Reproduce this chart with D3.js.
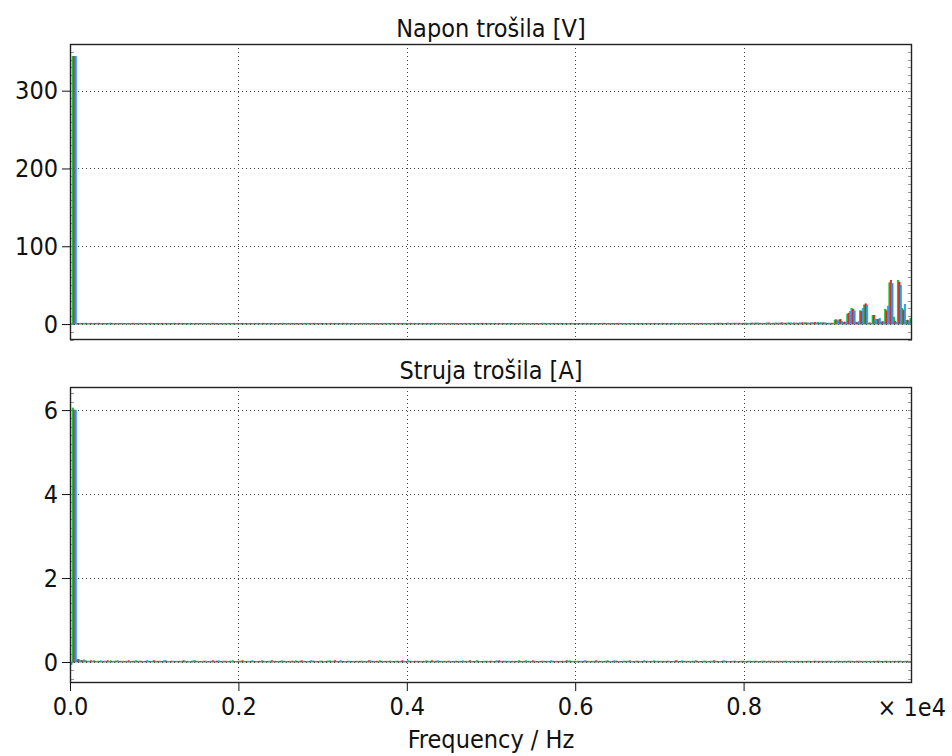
<!DOCTYPE html>
<html><head><meta charset="utf-8">
<script src="https://cdn.jsdelivr.net/npm/d3@7"></script>
<style>
body{margin:0;background:#fff;}
text{font-family:"DejaVu Sans Condensed","DejaVu Sans",sans-serif;fill:#111;}
</style></head>
<body><svg id="c" width="952" height="756"></svg>
<script>
// ---- data ----
const harmonicStepHz = 50;               // spacing of spectrum lines (harmonic order n -> n*50 Hz)
const xTickValues = [0, 2000, 4000, 6000, 8000];
const xTickLabels = ["0.0", "0.2", "0.4", "0.6", "0.8"];
const xExponentLabel = "× 1e4";
const xAxisTitle = "Frequency / Hz";
const panelTitles = ["Napon trošila [V]", "Struja trošila [A]"];
const seriesNames = ["faza a", "faza b", "faza c"];
const seriesColors = ["#0cc02a", "#ee1c1c", "#1e9cff"];
const voltTicks = [0, 100, 200, 300];
const currTicks = [0, 2, 4, 6];

// Voltage spectrum amplitudes [V], index = harmonic order 0..200
const voltA = [
0.3,344,0.8,0.9,1.1,0.7,0.9,1.0,0.6,0.8,1.2,0.7,0.9,0.6,1.0,0.8,0.7,1.1,0.9,0.6,
0.8,1.0,0.7,0.9,0.6,1.1,0.8,0.7,0.9,1.0,0.6,0.8,0.9,0.7,1.0,0.8,0.6,0.9,1.1,0.7,
0.9,0.6,0.8,1.0,0.7,0.9,0.8,0.6,1.0,0.7,0.9,1.1,0.8,0.6,0.9,0.7,1.0,0.8,0.6,0.9,
0.7,1.0,0.8,0.9,0.6,0.8,1.1,0.7,0.9,0.6,1.0,0.8,0.7,0.9,0.6,1.0,0.8,1.1,0.7,0.9,
0.6,0.8,1.0,0.7,0.9,0.8,0.6,1.0,0.7,0.9,0.8,1.1,0.6,0.9,0.7,1.0,0.8,0.6,0.9,0.7,
1.0,0.8,0.9,0.6,0.8,1.0,0.7,0.9,1.1,0.6,0.8,0.9,0.7,1.0,0.8,0.6,0.9,0.7,1.0,0.8,
0.9,0.6,0.8,1.1,0.7,0.9,0.6,1.0,0.8,0.7,0.9,1.0,0.6,0.8,0.9,0.7,1.0,0.8,0.6,0.9,
0.7,1.0,0.8,0.9,0.6,1.1,0.8,0.7,0.9,1.0,0.7,0.9,0.8,1.0,0.9,1.2,0.8,1.0,1.1,0.9,
0.9,1.2,1.0,1.4,0.8,1.1,1.3,0.9,1.5,1.0,1.2,1.6,0.9,1.3,1.1,1.8,1.2,1.5,2.0,1.4,
1.3,1.0,5.0,5.2,2.0,13.0,20.0,2.5,17.0,24.5,1.2,11.0,6.0,2.5,19.0,53.0,9.0,56.0,20.0,4.5,
7.0];
const voltB = [
0.2,344,0.9,0.7,1.0,0.8,0.6,1.1,0.9,0.7,1.0,0.8,0.6,0.9,0.7,1.1,0.8,0.9,0.6,1.0,
0.7,0.9,1.0,0.6,0.8,0.9,1.1,0.7,0.8,0.6,1.0,0.9,0.7,0.8,1.1,0.6,0.9,0.8,0.7,1.0,
0.8,1.0,0.6,0.9,0.8,0.7,1.1,0.9,0.6,0.8,1.0,0.7,0.9,0.8,0.6,1.0,0.7,0.9,1.1,0.8,
0.9,0.7,1.0,0.6,0.8,1.1,0.7,0.9,0.8,1.0,0.6,0.9,0.8,0.7,1.0,0.9,0.6,0.8,1.0,0.7,
0.8,1.0,0.7,0.9,0.6,1.1,0.8,0.7,0.9,1.0,0.6,0.8,0.9,0.7,1.0,0.8,0.6,0.9,1.1,0.7,
0.8,0.9,0.7,1.0,0.8,0.6,0.9,1.1,0.7,0.8,1.0,0.6,0.9,0.8,0.7,1.0,0.8,0.9,0.6,1.0,
0.7,0.9,1.0,0.6,0.8,0.9,0.7,1.1,0.8,0.6,1.0,0.7,0.9,0.8,0.6,1.0,0.9,0.7,0.8,1.0,
0.9,0.7,1.0,0.8,0.9,0.7,1.0,0.9,0.8,0.7,1.1,0.8,1.0,0.9,1.2,0.8,1.1,0.9,1.0,1.2,
1.1,0.9,1.3,1.0,1.2,0.9,1.4,1.1,1.0,1.6,1.2,1.1,1.4,1.0,1.7,1.3,1.4,1.9,1.2,1.6,
1.0,1.2,5.5,5.8,2.6,14.0,19.0,1.8,16.5,26.0,1.5,11.0,6.0,3.0,17.0,56.0,3.5,54.0,18.0,5.0,
6.5];
const voltC = [
0.2,344,0.7,1.0,0.8,0.9,1.1,0.6,0.8,1.0,0.7,0.9,1.1,0.8,0.6,0.9,1.0,0.7,0.8,1.1,
0.9,0.6,0.8,1.0,0.9,0.7,0.6,1.0,0.8,0.9,0.7,1.1,0.8,0.6,0.9,1.0,0.8,0.7,0.9,0.6,
1.0,0.8,0.9,0.7,1.1,0.6,0.8,1.0,0.9,0.7,0.8,0.6,1.0,0.9,0.8,0.7,1.1,0.6,0.8,1.0,
0.8,0.9,0.7,1.0,0.9,0.6,0.8,1.0,0.7,0.9,1.1,0.7,0.9,0.8,0.6,1.1,0.7,0.9,0.8,1.0,
0.9,0.7,0.8,1.0,0.8,0.6,0.9,1.1,0.8,0.7,0.9,1.0,0.7,0.8,0.9,0.6,1.0,0.8,0.7,1.0,
0.9,0.7,0.8,0.9,1.0,0.7,0.8,0.6,1.0,0.9,0.7,0.8,1.1,0.6,0.9,0.8,1.0,0.7,0.9,0.6,
0.8,1.0,0.7,0.9,0.6,0.8,1.0,0.9,0.7,0.8,1.1,0.6,0.8,1.0,0.7,0.9,0.8,1.0,0.7,0.9,
0.8,1.0,0.7,1.1,0.8,0.9,0.8,1.1,0.7,1.0,0.9,1.1,0.8,1.2,1.0,0.9,1.3,1.0,1.2,0.9,
1.2,1.0,1.1,1.5,0.9,1.3,1.2,1.0,1.4,1.3,1.1,1.5,1.2,1.6,1.0,1.5,1.7,1.3,1.8,1.5,
1.2,0.9,4.2,3.5,2.4,16.0,17.0,3.0,20.0,24.0,1.0,6.5,7.0,2.8,23.0,52.0,2.0,50.0,25.0,4.0,
8.0];

// Current spectrum amplitudes [A], index = harmonic order 0..200
const currA = [
0.02,6.05,0.05,0.04,0.03,0.02,0.03,0.02,0.01,0.02,0.03,0.02,0.01,0.02,0.02,0.01,0.03,0.02,0.01,0.02,
0.02,0.01,0.02,0.03,0.01,0.02,0.01,0.02,0.02,0.01,0.03,0.01,0.02,0.01,0.02,0.02,0.01,0.02,0.01,0.03,
0.01,0.02,0.02,0.01,0.02,0.01,0.03,0.01,0.02,0.02,0.01,0.02,0.01,0.02,0.03,0.01,0.02,0.01,0.02,0.01,
0.02,0.01,0.03,0.02,0.01,0.02,0.01,0.02,0.01,0.02,0.02,0.01,0.02,0.01,0.03,0.01,0.02,0.01,0.02,0.02,
0.01,0.02,0.01,0.02,0.01,0.03,0.02,0.01,0.02,0.01,0.02,0.01,0.02,0.02,0.01,0.02,0.01,0.03,0.01,0.02,
0.02,0.01,0.02,0.01,0.02,0.01,0.02,0.03,0.01,0.02,0.01,0.02,0.01,0.02,0.02,0.01,0.02,0.01,0.02,0.03,
0.01,0.02,0.01,0.02,0.02,0.01,0.02,0.01,0.03,0.01,0.02,0.01,0.02,0.02,0.01,0.02,0.01,0.02,0.01,0.03,
0.02,0.01,0.02,0.01,0.02,0.01,0.02,0.02,0.01,0.03,0.01,0.02,0.01,0.02,0.02,0.01,0.02,0.01,0.02,0.01,
0.02,0.01,0.02,0.02,0.01,0.02,0.01,0.02,0.01,0.02,0.02,0.01,0.02,0.01,0.02,0.01,0.02,0.02,0.01,0.02,
0.01,0.02,0.01,0.02,0.01,0.02,0.02,0.01,0.02,0.01,0.02,0.01,0.02,0.01,0.02,0.02,0.01,0.02,0.01,0.02,
0.01];
const currB = [
0.10,6.00,0.06,0.03,0.02,0.03,0.02,0.01,0.02,0.03,0.01,0.02,0.02,0.01,0.03,0.02,0.01,0.02,0.02,0.01,
0.03,0.02,0.01,0.02,0.02,0.01,0.02,0.03,0.01,0.02,0.02,0.01,0.02,0.01,0.03,0.02,0.01,0.02,0.02,0.01,
0.02,0.03,0.01,0.02,0.01,0.02,0.02,0.01,0.03,0.01,0.02,0.02,0.01,0.02,0.01,0.03,0.01,0.02,0.02,0.01,
0.02,0.02,0.01,0.03,0.02,0.01,0.02,0.01,0.02,0.02,0.01,0.03,0.01,0.02,0.01,0.02,0.02,0.01,0.02,0.03,
0.01,0.02,0.02,0.01,0.02,0.01,0.03,0.02,0.01,0.02,0.02,0.01,0.02,0.01,0.02,0.03,0.01,0.02,0.01,0.02,
0.02,0.01,0.03,0.02,0.01,0.02,0.01,0.02,0.02,0.01,0.03,0.01,0.02,0.02,0.01,0.02,0.01,0.02,0.03,0.01,
0.02,0.01,0.02,0.02,0.01,0.03,0.01,0.02,0.01,0.02,0.02,0.01,0.02,0.03,0.01,0.02,0.01,0.02,0.02,0.01,
0.01,0.02,0.02,0.01,0.03,0.01,0.02,0.01,0.02,0.02,0.01,0.02,0.01,0.03,0.01,0.02,0.02,0.01,0.02,0.01,
0.02,0.02,0.01,0.02,0.01,0.02,0.02,0.01,0.02,0.01,0.02,0.02,0.01,0.02,0.01,0.02,0.01,0.02,0.02,0.01,
0.02,0.01,0.02,0.01,0.02,0.02,0.01,0.02,0.01,0.02,0.01,0.02,0.02,0.01,0.02,0.01,0.02,0.02,0.01,0.02,
0.02];
const currC = [
-0.06,6.00,0.04,0.05,0.02,0.02,0.01,0.03,0.02,0.01,0.02,0.03,0.01,0.02,0.01,0.02,0.02,0.01,0.03,0.02,
0.01,0.02,0.03,0.01,0.02,0.02,0.01,0.02,0.01,0.03,0.02,0.01,0.02,0.02,0.01,0.03,0.02,0.01,0.02,0.01,
0.02,0.01,0.02,0.03,0.01,0.02,0.01,0.02,0.02,0.01,0.03,0.01,0.02,0.01,0.02,0.02,0.01,0.03,0.01,0.02,
0.01,0.02,0.02,0.01,0.03,0.01,0.02,0.02,0.01,0.02,0.01,0.03,0.02,0.01,0.02,0.01,0.02,0.02,0.01,0.02,
0.03,0.01,0.02,0.02,0.01,0.02,0.01,0.03,0.02,0.01,0.02,0.02,0.01,0.03,0.01,0.02,0.02,0.01,0.02,0.01,
0.02,0.03,0.01,0.02,0.02,0.01,0.02,0.01,0.03,0.02,0.01,0.02,0.02,0.01,0.03,0.01,0.02,0.01,0.02,0.02,
0.01,0.02,0.03,0.01,0.02,0.01,0.02,0.02,0.01,0.03,0.01,0.02,0.02,0.01,0.02,0.01,0.03,0.02,0.01,0.02,
0.02,0.01,0.02,0.01,0.02,0.03,0.01,0.02,0.02,0.01,0.02,0.01,0.02,0.02,0.01,0.03,0.01,0.02,0.01,0.02,
0.01,0.02,0.02,0.01,0.02,0.01,0.02,0.02,0.01,0.02,0.02,0.01,0.02,0.01,0.02,0.02,0.01,0.02,0.01,0.02,
0.02,0.01,0.02,0.02,0.01,0.02,0.01,0.02,0.02,0.01,0.02,0.01,0.02,0.02,0.01,0.02,0.01,0.02,0.02,0.01,
0.02];

// ---- drawing ----
const svg = d3.select("#c");
const L = 70, R = 912;
const FS = "25px";
const FONT = '"DejaVu Sans Condensed","DejaVu Sans",sans-serif';
const x = d3.scaleLinear().domain([0, 10000]).range([L, R]);

const panels = [
  {title: panelTitles[0], top: 44, bottom: 340, domain: [-20.5, 360], ticks: voltTicks, minorStep: 10,
   series: [voltA, voltB, voltC], titleY: 37},
  {title: panelTitles[1], top: 387, bottom: 683, domain: [-0.5, 6.55], ticks: currTicks, minorStep: 0.2,
   series: [currA, currB, currC], titleY: 379}
];

panels.forEach((p, pi) => {
  const y = d3.scaleLinear().domain(p.domain).range([p.bottom, p.top]);
  const g = svg.append("g");
  const clipId = "clip" + pi;
  svg.append("clipPath").attr("id", clipId).append("rect")
    .attr("x", L).attr("y", p.top).attr("width", R - L).attr("height", p.bottom - p.top);

  // grid
  const grid = g.append("g").attr("stroke", "#444").attr("stroke-width", 1).attr("stroke-dasharray", "1,3");
  xTickValues.filter(v => v > 0).forEach(v => {
    grid.append("line").attr("x1", Math.round(x(v)) + 0.5).attr("x2", Math.round(x(v)) + 0.5)
      .attr("y1", p.top).attr("y2", p.bottom);
  });
  p.ticks.forEach(v => {
    grid.append("line").attr("x1", L).attr("x2", R)
      .attr("y1", Math.round(y(v)) + 0.5).attr("y2", Math.round(y(v)) + 0.5);
  });

  // minor ticks inside left and right edges
  const minor = d3.range(Math.ceil(p.domain[0] / p.minorStep), Math.floor(p.domain[1] / p.minorStep) + 1)
    .map(k => k * p.minorStep);
  const mg = g.append("g").attr("stroke", "#999").attr("stroke-width", 1);
  minor.forEach(v => {
    const yy = Math.round(y(v)) + 0.5;
    mg.append("line").attr("x1", L).attr("x2", L + 4).attr("y1", yy).attr("y2", yy);
    mg.append("line").attr("x1", R - 4).attr("x2", R).attr("y1", yy).attr("y2", yy);
  });

  // bars
  const binW = x(harmonicStepHz) - x(0);
  const bw = binW / 3;
  const bars = g.append("g").attr("clip-path", `url(#${clipId})`);
  p.series.forEach((arr, si) => {
    bars.selectAll(null).data(arr).enter().append("rect")
      .attr("x", (d, i) => x(i * harmonicStepHz) - binW / 2 + si * bw)
      .attr("width", bw)
      .attr("y", d => Math.min(y(d), y(0)))
      .attr("height", d => Math.abs(y(0) - y(d)))
      .attr("fill", seriesColors[si])
      .attr("stroke", seriesColors[si])
      .attr("stroke-width", 0.7);
  });

  // frame
  g.append("rect").attr("x", L + 0.5).attr("y", p.top + 0.5).attr("width", R - L - 1).attr("height", p.bottom - p.top - 1)
    .attr("fill", "none").attr("stroke", "#222").attr("stroke-width", 1.4);

  // y axis
  const ya = d3.axisLeft(y).tickValues(p.ticks).tickSize(8).tickPadding(4).tickFormat(d3.format("d"));
  const yg = g.append("g").attr("transform", `translate(${L},0)`).call(ya);
  yg.select(".domain").remove();
  yg.selectAll(".tick line").attr("stroke", "#111");
  yg.selectAll(".tick text").style("font-size", FS).attr("fill", "#111").style("font-family", FONT);

  // title
  svg.append("text").attr("x", (L + R) / 2).attr("y", p.titleY).attr("text-anchor", "middle")
    .style("font-size", FS).text(p.title);

  if (pi === 1) {
    const xa = d3.axisBottom(x).tickValues(xTickValues).tickSize(8).tickPadding(6)
      .tickFormat((d, i) => xTickLabels[i]);
    const xg = g.append("g").attr("transform", `translate(0,${p.bottom})`).call(xa);
    xg.select(".domain").remove();
    xg.selectAll(".tick line").attr("stroke", "#111");
    xg.selectAll(".tick text").style("font-size", FS).attr("fill", "#111").style("font-family", FONT);
    svg.append("text").attr("x", 946).attr("y", 716).attr("text-anchor", "end")
      .style("font-size", FS).text(xExponentLabel);
    svg.append("text").attr("x", (L + R) / 2).attr("y", 748).attr("text-anchor", "middle")
      .style("font-size", FS).text(xAxisTitle);
  }
});
</script></body></html>
